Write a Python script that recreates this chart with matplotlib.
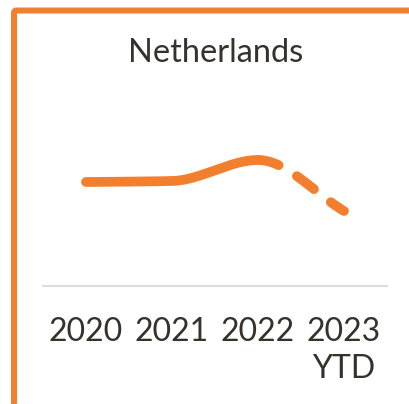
import numpy as np
import matplotlib.pyplot as plt
from matplotlib.patches import FancyBboxPatch

# yearly index values for the Netherlands
years = ["2020", "2021", "2022", "2023\nYTD"]
values = [1.04, 1.05, 1.26, 0.75]

orange = "#F27F2E"
text_color = "#35322B"

plt.rcParams["font.family"] = ["Lato", "DejaVu Sans"]


def pchip(x, y, xs):
    # monotone cubic interpolation (Fritsch-Carlson)
    x = np.asarray(x, float)
    y = np.asarray(y, float)
    h = np.diff(x)
    d = np.diff(y) / h
    m = np.zeros_like(y)
    m[0], m[-1] = d[0], d[-1]
    for i in range(1, len(y) - 1):
        if d[i - 1] * d[i] > 0:
            m[i] = 2 / (1 / d[i - 1] + 1 / d[i])
    out = np.empty_like(xs)
    for j, xv in enumerate(xs):
        i = min(np.searchsorted(x, xv, side="right") - 1, len(x) - 2)
        t = (xv - x[i]) / h[i]
        h00 = 2 * t**3 - 3 * t**2 + 1
        h10 = t**3 - 2 * t**2 + t
        h01 = -2 * t**3 + 3 * t**2
        h11 = t**3 - t**2
        out[j] = h00 * y[i] + h10 * h[i] * m[i] + h01 * y[i + 1] + h11 * h[i] * m[i + 1]
    return out


fig = plt.figure(figsize=(4.1, 4.04), dpi=100)

# card frame
frame = FancyBboxPatch((14 / 410, -1.5 / 404), 420 / 410, 395 / 404,
                       boxstyle="round,pad=0,rounding_size=0.006",
                       transform=fig.transFigure, fill=False,
                       edgecolor=orange, linewidth=4.3, zorder=0)
fig.patches.append(frame)

ax = fig.add_axes([43 / 410, 118 / 404, 344 / 410, 186 / 404])
x = np.arange(len(years))

xs_solid = np.linspace(0, 2, 200)
ax.plot(xs_solid, pchip(x, values, xs_solid), color=orange, lw=7,
        solid_capstyle="round")
xs_dash = np.linspace(2, 3, 100)
ax.plot(xs_dash, pchip(x, values, xs_dash), color=orange, lw=7,
        dash_capstyle="round", linestyle=(0, (2.2, 2.2)))

ax.set_xlim(-0.5, 3.5)
ax.set_ylim(0, 1.86)
ax.set_xticks(x)
ax.set_xticklabels(years, fontsize=23, color=text_color, linespacing=1.3)
ax.tick_params(axis="x", length=0, pad=22)
ax.set_yticks([])
for side in ["top", "left", "right"]:
    ax.spines[side].set_visible(False)
ax.spines["bottom"].set_color("#DDDDDD")
ax.spines["bottom"].set_linewidth(1.5)

fig.text(216 / 410, 1 - 53 / 404, "Netherlands", ha="center", va="center",
         fontsize=23.5, color=text_color)

fig.savefig("out.png", dpi=100)
